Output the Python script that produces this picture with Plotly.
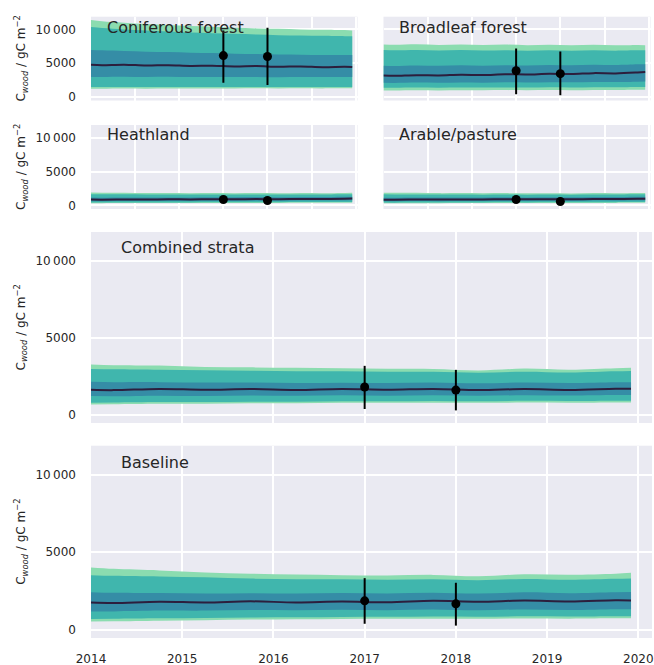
import plotly.graph_objects as go

# ---------------- data ----------------
# time axis (decimal years) at which band edges / medians were read
T = [2014.0, 2014.25, 2014.75, 2015.25, 2015.75, 2016.25, 2016.75,
     2017.25, 2017.75, 2018.25, 2018.75, 2019.25, 2019.75, 2019.92]
OBS_T = [2017.0, 2018.0]
YEAR_TICKS = [2014, 2015, 2016, 2017, 2018, 2019, 2020]
YEAR_LABELS = ["2014", "2015", "2016", "2017", "2018", "2019", "2020"]
Y_TICKS = [0, 5000, 10000]
Y_LABELS = ["0", "5000", "10\u2009000"]

# Coniferous forest
CON_OUT_HI = [11400, 11200, 11000, 10800, 10650, 10500, 10400, 10250, 10150, 10100, 10000, 9950, 9900, 9860]
CON_MID_HI = [10350, 10200, 10000, 9850, 9700, 9550, 9450, 9350, 9250, 9150, 9100, 9050, 9000, 8980]
CON_IN_HI = [6950, 6900, 6800, 6700, 6650, 6550, 6500, 6400, 6350, 6280, 6250, 6200, 6200, 6210]
CON_MED = [4750, 4700, 4780, 4650, 4700, 4580, 4620, 4500, 4560, 4450, 4520, 4400, 4460, 4420]
CON_IN_LO = [2960, 2950, 2980, 2940, 2970, 2930, 2960, 2930, 2960, 2920, 2950, 2930, 2960, 2960]
CON_MID_LO = [1450, 1450, 1470, 1460, 1470, 1460, 1470, 1460, 1480, 1460, 1480, 1460, 1480, 1470]
CON_OUT_LO = [1200, 1200, 1230, 1220, 1240, 1230, 1250, 1240, 1260, 1240, 1260, 1250, 1270, 1270]
CON_OBS = [6120, 5980]
CON_OBS_HI = [9860, 10250]
CON_OBS_LO = [2090, 1750]

# Broadleaf forest
BRD_OUT_HI = [7770, 7720, 7800, 7700, 7780, 7680, 7760, 7660, 7740, 7640, 7720, 7640, 7700, 7670]
BRD_MID_HI = [6940, 6900, 6960, 6880, 6940, 6860, 6920, 6850, 6900, 6840, 6900, 6850, 6900, 6900]
BRD_IN_HI = [4610, 4580, 4650, 4600, 4680, 4620, 4700, 4650, 4740, 4680, 4780, 4720, 4820, 4850]
BRD_MED = [3150, 3120, 3220, 3180, 3280, 3240, 3350, 3320, 3420, 3380, 3520, 3480, 3620, 3690]
BRD_IN_LO = [2090, 2070, 2120, 2090, 2140, 2110, 2160, 2130, 2180, 2150, 2220, 2190, 2250, 2270]
BRD_MID_LO = [1360, 1350, 1380, 1360, 1390, 1370, 1400, 1380, 1420, 1400, 1440, 1420, 1460, 1470]
BRD_OUT_LO = [960, 950, 980, 960, 990, 970, 1000, 980, 1010, 990, 1030, 1010, 1040, 1050]
BRD_OBS = [3880, 3440]
BRD_OBS_HI = [7190, 6710]
BRD_OBS_LO = [380, 230]

# Heathland
HEA_OUT_HI = [1900, 1880, 1870, 1820, 1830, 1800, 1820, 1790, 1810, 1780, 1820, 1800, 1840, 1850]
HEA_MID_HI = [1650, 1630, 1630, 1600, 1610, 1590, 1610, 1590, 1610, 1590, 1620, 1610, 1640, 1650]
HEA_IN_HI = [1150, 1140, 1170, 1160, 1180, 1170, 1200, 1190, 1220, 1200, 1240, 1230, 1270, 1280]
HEA_MED = [850, 840, 870, 860, 890, 880, 910, 900, 930, 910, 950, 940, 980, 1000]
HEA_IN_LO = [620, 610, 640, 630, 650, 640, 670, 660, 690, 670, 710, 700, 730, 740]
HEA_MID_LO = [420, 410, 430, 430, 440, 440, 460, 450, 470, 460, 480, 480, 500, 500]
HEA_OUT_LO = [320, 310, 330, 330, 340, 340, 350, 350, 360, 360, 370, 370, 380, 390]
HEA_OBS = [860, 710]
HEA_OBS_HI = [1150, 980]
HEA_OBS_LO = [580, 450]

# Arable/pasture
ARA_OUT_HI = [1880, 1860, 1860, 1810, 1820, 1790, 1810, 1780, 1800, 1770, 1810, 1790, 1830, 1840]
ARA_MID_HI = [1630, 1610, 1620, 1590, 1600, 1580, 1600, 1580, 1600, 1580, 1610, 1600, 1630, 1640]
ARA_IN_HI = [1140, 1130, 1160, 1150, 1170, 1160, 1190, 1180, 1210, 1190, 1230, 1220, 1260, 1270]
ARA_MED = [840, 830, 860, 850, 880, 870, 900, 890, 920, 900, 940, 930, 970, 990]
ARA_IN_LO = [610, 600, 630, 620, 640, 630, 660, 650, 680, 660, 700, 690, 720, 730]
ARA_MID_LO = [410, 400, 420, 420, 430, 430, 450, 440, 460, 450, 470, 470, 490, 490]
ARA_OUT_LO = [310, 300, 320, 320, 330, 330, 340, 340, 350, 350, 360, 360, 370, 380]
ARA_OBS = [860, 570]
ARA_OBS_HI = [1130, 820]
ARA_OBS_LO = [600, 330]

# Combined strata
COM_OUT_HI = [3260, 3220, 3200, 3110, 3080, 3050, 3030, 2990, 2980, 2880, 3000, 2930, 3030, 3050]
COM_MID_HI = [2980, 2960, 2930, 2890, 2860, 2830, 2830, 2800, 2790, 2730, 2800, 2750, 2830, 2850]
COM_IN_HI = [2140, 2120, 2120, 2090, 2090, 2060, 2080, 2060, 2090, 2040, 2100, 2060, 2110, 2120]
COM_MED = [1620, 1600, 1680, 1620, 1670, 1610, 1680, 1620, 1680, 1600, 1670, 1610, 1690, 1690]
COM_IN_LO = [1210, 1200, 1240, 1220, 1250, 1230, 1260, 1240, 1270, 1230, 1270, 1250, 1280, 1280]
COM_MID_LO = [780, 790, 820, 830, 850, 850, 870, 870, 890, 870, 900, 890, 910, 910]
COM_OUT_LO = [670, 680, 710, 720, 740, 750, 770, 770, 780, 770, 790, 780, 800, 800]
COM_OBS = [1800, 1600]
COM_OBS_HI = [3180, 2920]
COM_OBS_LO = [370, 280]

# Baseline
BAS_OUT_HI = [4020, 3930, 3830, 3700, 3620, 3560, 3520, 3500, 3540, 3450, 3580, 3550, 3620, 3680]
BAS_MID_HI = [3520, 3480, 3440, 3380, 3300, 3260, 3250, 3220, 3250, 3200, 3280, 3230, 3290, 3310]
BAS_IN_HI = [2420, 2380, 2370, 2330, 2350, 2330, 2370, 2340, 2380, 2330, 2410, 2360, 2420, 2430]
BAS_MED = [1750, 1720, 1810, 1760, 1830, 1760, 1820, 1770, 1860, 1800, 1880, 1820, 1900, 1890]
BAS_IN_LO = [1170, 1180, 1230, 1230, 1270, 1260, 1290, 1260, 1300, 1250, 1310, 1270, 1320, 1320]
BAS_MID_LO = [690, 700, 730, 750, 790, 800, 820, 830, 850, 840, 860, 850, 870, 870]
BAS_OUT_LO = [530, 540, 580, 610, 650, 670, 690, 700, 710, 700, 720, 710, 730, 730]
BAS_OBS = [1860, 1670]
BAS_OBS_HI = [3330, 3030]
BAS_OBS_LO = [380, 260]

TITLES = ["Coniferous forest", "Broadleaf forest", "Heathland",
          "Arable/pasture", "Combined strata", "Baseline"]

# ---------------- styling ----------------
W, H = 654, 665
BG = "#EAEAF2"
TXT = "#262626"
C_OUT = "#8BDCB0"
C_MID = "#40B6AD"
C_IN = "#358DA6"
C_MED = "#2C1E3D"

panels = [
    (TITLES[0], (CON_OUT_HI, CON_MID_HI, CON_IN_HI, CON_MED, CON_IN_LO, CON_MID_LO, CON_OUT_LO), (CON_OBS, CON_OBS_HI, CON_OBS_LO)),
    (TITLES[1], (BRD_OUT_HI, BRD_MID_HI, BRD_IN_HI, BRD_MED, BRD_IN_LO, BRD_MID_LO, BRD_OUT_LO), (BRD_OBS, BRD_OBS_HI, BRD_OBS_LO)),
    (TITLES[2], (HEA_OUT_HI, HEA_MID_HI, HEA_IN_HI, HEA_MED, HEA_IN_LO, HEA_MID_LO, HEA_OUT_LO), (HEA_OBS, HEA_OBS_HI, HEA_OBS_LO)),
    (TITLES[3], (ARA_OUT_HI, ARA_MID_HI, ARA_IN_HI, ARA_MED, ARA_IN_LO, ARA_MID_LO, ARA_OUT_LO), (ARA_OBS, ARA_OBS_HI, ARA_OBS_LO)),
    (TITLES[4], (COM_OUT_HI, COM_MID_HI, COM_IN_HI, COM_MED, COM_IN_LO, COM_MID_LO, COM_OUT_LO), (COM_OBS, COM_OBS_HI, COM_OBS_LO)),
    (TITLES[5], (BAS_OUT_HI, BAS_MID_HI, BAS_IN_HI, BAS_MED, BAS_IN_LO, BAS_MID_LO, BAS_OUT_LO), (BAS_OBS, BAS_OBS_HI, BAS_OBS_LO)),
]

# pixel boxes (left, right, top, bottom) of each panel
boxes = [
    (91, 357.5, 16.7, 100.5),
    (383.5, 650.5, 16.7, 100.5),
    (91, 357.5, 125, 209),
    (383.5, 650.5, 125, 209),
    (91, 652, 232, 423),
    (91, 652, 445.7, 638),
]
xranges = [[2014, 2020.04]] * 4 + [[2014, 2020.15]] * 2
YR = [-540, 11890]

fig = go.Figure()
layout = dict(
    width=W, height=H, margin=dict(l=0, r=0, t=0, b=0, autoexpand=False),
    paper_bgcolor="white", plot_bgcolor=BG, showlegend=False,
    font=dict(family="DejaVu Sans", size=12, color=TXT),
)
annotations = []

for i, (title, s, obs) in enumerate(panels):
    n = i + 1
    xa = "x" if n == 1 else f"x{n}"
    ya = "y" if n == 1 else f"y{n}"
    out_hi, mid_hi, in_hi, med, in_lo, mid_lo, out_lo = s
    for lo, hi, col in ((out_lo, out_hi, C_OUT), (mid_lo, mid_hi, C_MID), (in_lo, in_hi, C_IN)):
        fig.add_trace(go.Scatter(x=T, y=lo, mode="lines", line=dict(width=0, shape="spline", color=col),
                                 xaxis=xa, yaxis=ya, hoverinfo="skip"))
        fig.add_trace(go.Scatter(x=T, y=hi, mode="lines", line=dict(width=0, shape="spline", color=col),
                                 fill="tonexty", fillcolor=col, xaxis=xa, yaxis=ya, hoverinfo="skip"))
    fig.add_trace(go.Scatter(x=T, y=med, mode="lines", line=dict(width=2, shape="spline", color=C_MED),
                             xaxis=xa, yaxis=ya))
    o, ohi, olo = obs
    fig.add_trace(go.Scatter(
        x=OBS_T, y=o, mode="markers", marker=dict(size=9, color="black"),
        error_y=dict(type="data", symmetric=False,
                     array=[h - v for h, v in zip(ohi, o)],
                     arrayminus=[v - l for l, v in zip(olo, o)],
                     color="black", thickness=2, width=0),
        xaxis=xa, yaxis=ya))

    l, r, t, b = boxes[i]
    xkey = "xaxis" if n == 1 else f"xaxis{n}"
    ykey = "yaxis" if n == 1 else f"yaxis{n}"
    layout[xkey] = dict(
        domain=[l / W, r / W], range=xranges[i], anchor=ya, automargin=False,
        tickvals=YEAR_TICKS, ticktext=YEAR_LABELS,
        showticklabels=(n == 6), ticks="", ticklabelstandoff=12,
        showgrid=True, gridcolor="white", gridwidth=1.5,
        zeroline=False, showline=False, tickfont=dict(size=12, color=TXT),
    )
    layout[ykey] = dict(
        domain=[1 - b / H, 1 - t / H], range=YR, anchor=xa, automargin=False,
        tickvals=Y_TICKS, ticktext=Y_LABELS,
        showticklabels=(n in (1, 3, 5, 6)), ticks="",
        ticklabelstandoff=14,
        showgrid=True, gridcolor="white", gridwidth=1.5,
        zeroline=False, showline=False, tickfont=dict(size=12, color=TXT),
    )
    # panel title
    if n <= 4:
        tx, ty = (105 if n in (1, 3) else 396.7), (27.5 if n <= 2 else 135)
    else:
        tx, ty = 119, (247.3 if n == 5 else 462)
    annotations.append(dict(text=title, x=tx / W, y=1 - ty / H, xref="paper", yref="paper",
                            xanchor="left", yanchor="middle", showarrow=False,
                            font=dict(size=16, color=TXT)))
    if n in (1, 3, 5, 6):
        annotations.append(dict(text="C<sub><i>wood</i></sub> / gC m<sup>\u22122</sup>",
                                x=21 / W, y=1 - (t + b) / 2 / H, xref="paper", yref="paper",
                                xanchor="center", yanchor="middle", textangle=-90, showarrow=False,
                                font=dict(size=12, color=TXT)))

layout["annotations"] = annotations
fig.update_layout(**layout)
fig.write_html("out.html")
